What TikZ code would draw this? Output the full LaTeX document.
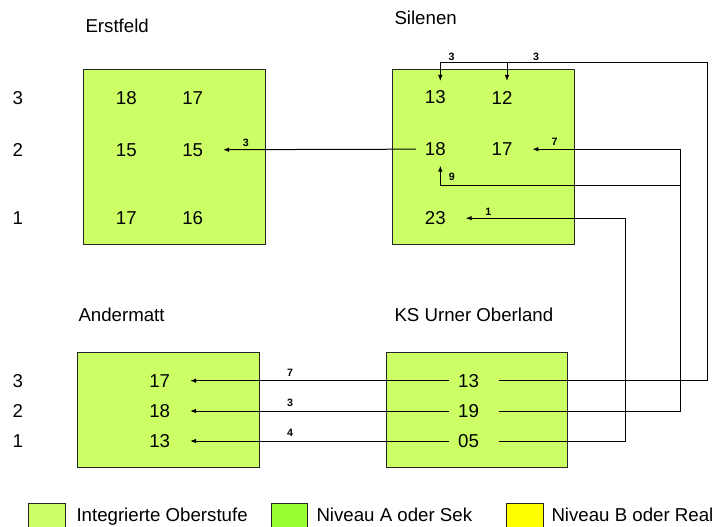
\documentclass[tikz,border=0pt]{standalone}
\usepackage{fontspec}
\setmainfont{Liberation Sans}
\usetikzlibrary{positioning, calc, arrows.meta}

\definecolor{integriert}{HTML}{CCFF66}
\definecolor{niveauA}{HTML}{99FF33}
\definecolor{niveauB}{HTML}{FFFF00}

\begin{document}
\begin{tikzpicture}
[
    x=0.75pt, y=-0.75pt, line width=0.75pt,
    % Numbers are named X-column-row with X = E (Erstfeld), S (Silenen)
    % Single column schools: A-row (Andermatt), K-row (KS Urner Oberland)
    font=\fontsize{14}{16}\selectfont
]

%=================================== Start ===================================
\tikzstyle{num}   = [inner xsep=15pt, inner ysep=0pt, outer sep=0pt, minimum height=24.75pt]
\tikzstyle{box}   = [fill=integriert, draw=black!85]
\tikzstyle{title} = [anchor=base west, inner sep=0pt]
\tikzstyle{row}   = [inner sep=0pt]
\tikzstyle{lbl}   = [font=\bfseries\fontsize{8}{9}\selectfont, inner sep=0pt]
\tikzstyle{into}  = [-{Latex[length=4.5pt, width=3.5pt]}]
\tikzstyle{from}  = [shorten <=-8.25pt]

\useasboundingbox (0,0) rectangle (720,527);

% School boxes
\draw[box] (83,69.5) rectangle (265,244);
\draw[box] (392,69.5) rectangle (574,244);
\draw[box] (77.3,352.7) rectangle (259,467);
\draw[box] (386,352.7) rectangle (567.7,467);

% School names
\node[title] (erstfeld)  at (85,32.5)  {Erstfeld};
\node[title] (silenen)   at (394,25)   {Silenen};
\node[title] (andermatt) at (78,321)   {Andermatt};
\node[title] (ks)        at (394,321)  {KS Urner Oberland};

% Row numbers
\foreach \r / \y in {3/98, 2/150, 1/218}
    \node[row] (R-top-\r) at (17.7,\y) {\r};
\foreach \r / \y in {3/380.7, 2/411, 1/441}
    \node[row] (R-bot-\r) at (17.7,\y) {\r};

% Erstfeld and Silenen
\foreach \r / \y / \a / \b in {3/98/18/17, 2/149.7/15/15, 1/218.5/17/16}
{
    \node[num] (E-1-\r) at (126.3,\y) {\a};
    \node[num] (E-2-\r) at (192.7,\y) {\b};
}
\foreach \r / \y / \a in {3/97.5/13, 2/149.2/18, 1/218.2/23}
    \node[num] (S-1-\r) at (435.3,\y) {\a};
\foreach \r / \y / \b in {3/97.5/12, 2/149.2/17}
    \node[num] (S-2-\r) at (502,\y) {\b};

% Andermatt and KS Urner Oberland
\foreach \r / \y / \a / \k in {3/380.7/17/13, 2/411/18/19, 1/441/13/05}
{
    \node[num] (A-\r) at (159.7,\y) {\a};
    \node[num] (K-\r) at (468.6,\y) {\k};
}

% Turning points of the long connectors
\coordinate (top-r) at (707.7,62.3);
\coordinate (r2)    at (680.7,186);
\coordinate (r1)    at (625.7,218.2);

% Silenen -> Erstfeld
\draw[into, from] (S-1-2.west) -- node[lbl, above=1.8pt, pos=0.875] {3} (E-2-2.east);

% KS -> Andermatt
\foreach \r / \n in {3/7, 2/3, 1/4}
    \draw[into, from] (K-\r.west) -- node[lbl, above=3pt, pos=0.597] {\n} (A-\r.east);

% KS -> Silenen
\draw[into] (K-3.east) -| (top-r)
    -| node[lbl, above=1.2pt, pos=0.479] {3}
       node[lbl, above=1.2pt, pos=0.321] {3}
    ($(S-1-3.north)+(5,0)$);
\draw[into] ($(S-2-3.north |- top-r)+(5,0)$) -- ($(S-2-3.north)+(5,0)$);
\draw[into] (K-2.east) -| (r2) |- node[lbl, above=2.5pt, pos=0.925] {7} (S-2-2.east);
\draw[into] (r2) -| node[lbl, right=6pt, pos=0.73] {9} ($(S-1-2.south)+(5,0)$);
\draw[into] (K-1.east) -| (r1) -- node[lbl, above=1.8pt, pos=0.859] {1} (S-1-1.east);

% Legend
\draw[box] (28.7,503.3) rectangle (65,530);
\draw[box, fill=niveauA] (271,503.3) rectangle (307.7,530);
\draw[box, fill=niveauB] (506.7,503.3) rectangle (543.3,530);
\node[title] (leg-1) at (76,521.7)  {Integrierte Oberstufe};
\node[title] (leg-2) at (316,521.7) {Niveau A oder Sek};
\node[title] (leg-3) at (551,521.7) {Niveau B oder Real};
%==================================== END ====================================

\end{tikzpicture}
\end{document}
